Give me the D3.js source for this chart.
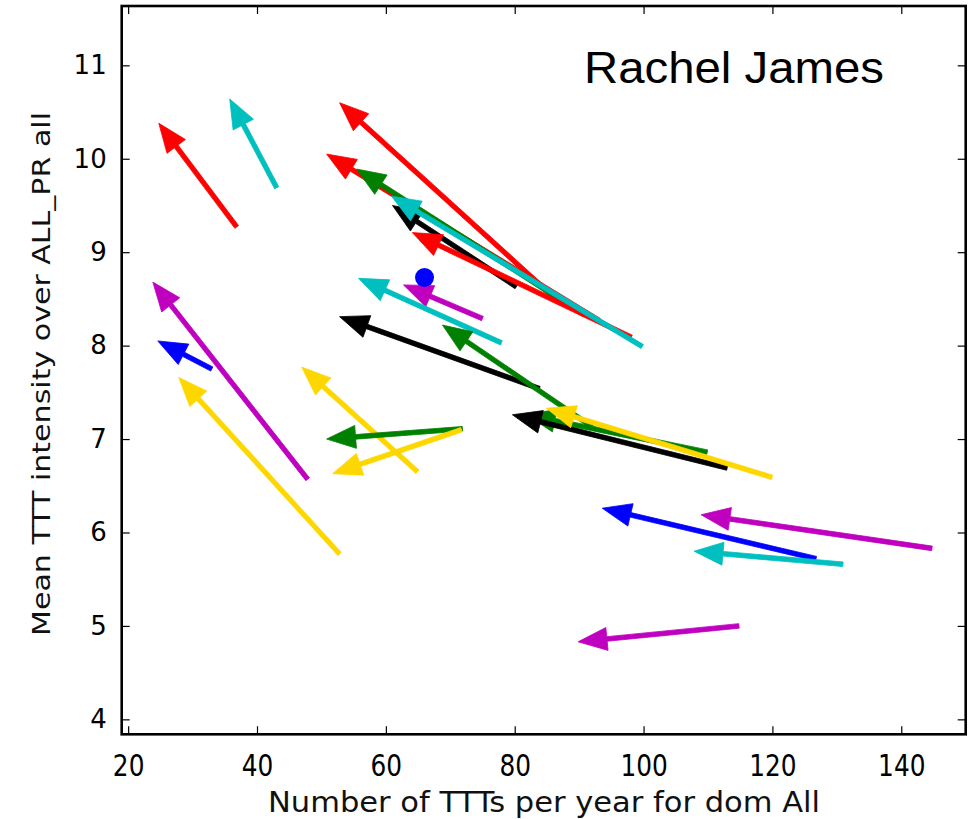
<!DOCTYPE html>
<html><head><meta charset="utf-8">
<script src="https://cdn.jsdelivr.net/npm/d3@7"></script>
<style>html,body{margin:0;padding:0;background:#fff;}svg{display:block;}</style>
</head><body>
<svg id="chart" width="977" height="819"></svg>
<script>
// ---- data (tail = start, tip = end of each arrow) ----
const arrowColors = ["red","#00bfbf","#bf00bf","blue","gold","gold","green","gold","#bf00bf","#00bfbf",
  "black","green","green","black","gold","blue","#bf00bf","#00bfbf","#bf00bf",
  "red","red","green","black","red","#00bfbf"];
const startX = [36.85,43.05,47.86,32.98,52.82,64.91,71.89,71.73,74.99,77.93,
  83.83,92.05,109.88,112.98,119.95,126.77,144.76,130.95,114.81,
  86.2,93.1,90.8,80.25,98.1,99.8];
const startY = [9.27,9.69,6.57,7.75,5.77,6.65,7.11,7.10,8.29,8.03,
  7.54,7.13,6.86,6.69,6.59,5.72,5.83,5.66,5.00,
  8.51,8.27,8.33,8.63,8.09,7.99];
const endX = [24.76,35.77,23.83,24.60,27.86,46.93,50.81,51.74,62.74,55.76,
  52.82,68.79,81.81,79.64,84.91,93.59,108.93,107.84,89.84,
  52.82,50.81,55.44,61.03,64.11,60.88];
const endY = [10.38,10.64,8.68,8.05,7.66,7.77,7.00,6.63,8.65,8.72,
  8.31,8.22,7.26,7.26,7.33,6.26,6.19,5.80,4.83,
  10.60,10.05,9.89,9.50,9.21,9.60];
const dotX = [66.0];
const dotY = [8.73];
const xTicks = [20,40,60,80,100,120,140];
const yTicks = [4,5,6,7,8,9,10,11];
const xDomain = [19,150];
const yDomain = [3.84,11.635];
const titleText = "Rachel James";
const xLabel = "Number of TTTs per year for dom All";
const yLabel = "Mean TTT intensity over ALL_PR all";

// ---- layout ----
const L = 121.7, R = 965.7, T = 6, B = 734.3;
const svg = d3.select("#chart");
const x = d3.scaleLinear().domain(xDomain).range([L, R]);
const y = d3.scaleLinear().domain(yDomain).range([B, T]);

// arrows
const HL = 29, HW = 23, SW = 4.6;
function arrowPath(x0,y0,x1,y1){
  const dx=x1-x0, dy=y1-y0, len=Math.hypot(dx,dy);
  const ux=dx/len, uy=dy/len, nx=-uy, ny=ux;
  const hl=Math.min(HL,len);
  const bx=x1-ux*hl, by=y1-uy*hl;
  const p=[[x0+nx*SW/2,y0+ny*SW/2],[bx+nx*SW/2,by+ny*SW/2],[bx+nx*HW/2,by+ny*HW/2],[x1,y1],
           [bx-nx*HW/2,by-ny*HW/2],[bx-nx*SW/2,by-ny*SW/2],[x0-nx*SW/2,y0-ny*SW/2]];
  return "M"+p.map(q=>q[0].toFixed(2)+","+q[1].toFixed(2)).join("L")+"Z";
}
const arrows = arrowColors.map((c,i)=>({c, x0:startX[i], y0:startY[i], x1:endX[i], y1:endY[i]}));
const plot = svg.append("g");
plot.selectAll("path.arrow").data(arrows).enter().append("path")
  .attr("class","arrow")
  .attr("d", d=>arrowPath(x(d.x0),y(d.y0),x(d.x1),y(d.y1)))
  .attr("fill", d=>d.c).attr("stroke", d=>d.c).attr("stroke-width",0.8).attr("stroke-linejoin","miter");

plot.selectAll("circle.dot").data(dotX.map((v,i)=>({x:v,y:dotY[i]}))).enter().append("circle")
  .attr("cx", d=>x(d.x)).attr("cy", d=>y(d.y)).attr("r", 9.5).attr("fill","blue");

// axes with inward ticks on all sides
const font = "DejaVu Sans";
const axB = d3.axisBottom(x).tickValues(xTicks).tickSize(-8).tickPadding(20).tickFormat(d3.format("d"));
const axT = d3.axisTop(x).tickValues(xTicks).tickSize(-8).tickFormat("");
const axLf = d3.axisLeft(y).tickValues(yTicks).tickSize(-8).tickPadding(15).tickFormat(d3.format("d"));
const axRt = d3.axisRight(y).tickValues(yTicks).tickSize(-8).tickFormat("");
const gB = svg.append("g").attr("transform",`translate(0,${B})`).call(axB);
const gT = svg.append("g").attr("transform",`translate(0,${T})`).call(axT);
const gL = svg.append("g").attr("transform",`translate(${L},0)`).call(axLf);
const gR = svg.append("g").attr("transform",`translate(${R},0)`).call(axRt);
[gB,gT,gL,gR].forEach(g=>{ g.select(".domain").remove(); g.selectAll(".tick line").attr("stroke","#000").attr("stroke-width",1.2); });
gL.selectAll(".tick text").attr("font-family",font).attr("font-size",26).attr("fill","#000");
gB.selectAll(".tick text").attr("font-family",font).attr("font-size",31).attr("fill","#000")
  .attr("transform","scale(0.8,1)");

// frame
svg.append("rect").attr("x",L).attr("y",T).attr("width",R-L).attr("height",B-T)
  .attr("fill","none").attr("stroke","#000").attr("stroke-width",2.6);

// labels
svg.append("text").attr("x",544).attr("y",812).attr("text-anchor","middle")
  .attr("font-family",font).attr("font-size",29).attr("fill","#111")
  .attr("textLength",552).attr("lengthAdjust","spacingAndGlyphs").text(xLabel);
svg.append("text").attr("transform","translate(50,374) rotate(-90)").attr("text-anchor","middle")
  .attr("font-family",font).attr("font-size",25).attr("fill","#111")
  .attr("textLength",524).attr("lengthAdjust","spacingAndGlyphs").text(yLabel);
svg.append("text").attr("x",584).attr("y",83)
  .attr("font-family","Liberation Sans, Arial").attr("font-size",44).attr("fill","#000")
  .attr("textLength",300).attr("lengthAdjust","spacingAndGlyphs").text(titleText);
</script>
</body></html>
